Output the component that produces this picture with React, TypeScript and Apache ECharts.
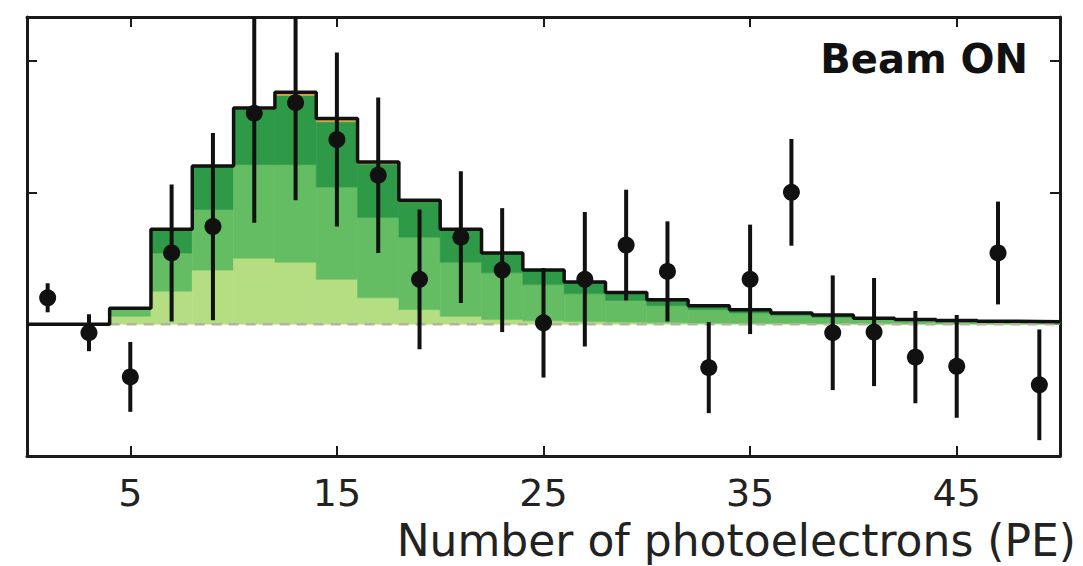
import React, { useEffect, useRef } from "react";
import * as echarts from "echarts";

// Histogram bin edges (PE)
const binEdges = [0, 2, 4, 6, 8, 10, 12, 14, 16, 18, 20, 22, 24, 26, 28, 30, 32, 34, 36, 38, 40, 42, 44, 46, 48, 50];
// Stacked prediction components per bin (bottom -> top)
const lightLayer = [0, 0, 0.6, 2.5, 4.1, 5.0, 4.7, 3.4, 2.0, 1.1, 0.6, 0.35, 0.25, 0.2, 0.15, 0.1, 0.08, 0.06, 0.05, 0.04, 0.03, 0.02, 0.02, 0.01, 0.01];
const mediumLayer = [0, 0, 0.6, 2.9, 4.6, 7.1, 7.4, 7.0, 6.1, 5.5, 4.1, 3.55, 2.75, 2.1, 1.65, 1.3, 1.02, 0.79, 0.6, 0.46, 0.32, 0.25, 0.2, 0.15, 0.12];
const darkLayer = [0, 0, 0, 1.8, 3.3, 4.2, 5.25, 4.95, 4.05, 2.8, 2.5, 1.5, 1.1, 0.9, 0.6, 0.45, 0.3, 0.25, 0.2, 0.2, 0.1, 0.08, 0.06, 0.06, 0.05];
const orangeLayer = [0, 0, 0, 0, 0, 0.1, 0.25, 0.25, 0.15, 0, 0, 0, 0, 0, 0, 0, 0, 0, 0, 0, 0, 0, 0, 0, 0];
const layerColors = ["#b5de82", "#64bd63", "#2e9a48", "#d9a23a"];

// Beam ON data points
const pointX = [1, 3, 5, 7, 9, 11, 13, 15, 17, 19, 21, 23, 25, 27, 29, 31, 33, 35, 37, 39, 41, 43, 45, 47, 49];
const pointY = [2.0, -0.65, -4.0, 5.4, 7.4, 16.0, 16.8, 14.0, 11.3, 3.4, 6.6, 4.1, 0.1, 3.4, 6.0, 4.0, -3.3, 3.4, 10.0, -0.65, -0.6, -2.5, -3.2, 5.4, -4.6];
const pointErr = [1.1, 1.4, 2.65, 5.2, 7.1, 8.3, 7.4, 6.6, 5.9, 5.3, 5.0, 4.7, 4.15, 5.1, 4.2, 3.8, 3.45, 4.15, 4.05, 4.35, 4.1, 3.5, 3.9, 3.9, 4.2];

const xTickValues = [5, 15, 25, 35, 45];
const yTickValues = [0, 10, 20];
const xMin = 0, xMax = 50, yMin = -10, yMax = 23.3;

export default function App() {
  const ref = useRef<HTMLDivElement>(null);
  useEffect(() => {
    document.body.style.margin = "0";
    if (!ref.current) return;
    const chart = echarts.init(ref.current, null, { renderer: "svg" });

    const layers = [lightLayer, mediumLayer, darkLayer, orangeLayer];
    const rectData: number[][] = [];
    const totals: number[] = [];
    for (let i = 0; i < binEdges.length - 1; i++) {
      let base = 0;
      layers.forEach((layer, k) => {
        const v = layer[i];
        if (v > 0) rectData.push([binEdges[i], binEdges[i + 1], base, base + v, k]);
        base += v;
      });
      totals.push(base);
    }
    const outline: number[][] = totals.map((t, i) => [binEdges[i], t]);
    outline.push([binEdges[binEdges.length - 1], totals[totals.length - 1]]);

    const errData = pointX.map((x, i) => [x, pointY[i] - pointErr[i], pointY[i] + pointErr[i]]);
    const scatterData = pointX.map((x, i) => [x, pointY[i]]);

    const axisLineStyle = { color: "#1a1a1a", width: 3 };
    const tickStyle = { color: "#1a1a1a", width: 2 };

    chart.setOption({
      animation: false,
      backgroundColor: "#ffffff",
      grid: { left: 27, right: 23, top: 17, bottom: 110 },
      xAxis: [
        {
          type: "value", min: xMin, max: xMax, position: "bottom",
          axisLine: { onZero: false, lineStyle: axisLineStyle },
          axisTick: { inside: true, length: 10, customValues: xTickValues, lineStyle: tickStyle },
          axisLabel: { customValues: xTickValues, fontSize: 38, lineHeight: 30, fontFamily: "DejaVu Sans", color: "#222", margin: 22 },
          splitLine: { show: false },
        },
        {
          type: "value", min: xMin, max: xMax, position: "top",
          axisLine: { onZero: false, lineStyle: axisLineStyle },
          axisTick: { inside: true, length: 10, customValues: xTickValues, lineStyle: tickStyle },
          axisLabel: { show: false },
          splitLine: { show: false },
        },
      ],
      yAxis: [
        {
          type: "value", min: yMin, max: yMax, position: "left",
          axisLine: { show: true, onZero: false, lineStyle: axisLineStyle },
          axisTick: { show: true, inside: true, length: 10, customValues: yTickValues, lineStyle: tickStyle },
          axisLabel: { show: false },
          splitLine: { show: false },
        },
        {
          type: "value", min: yMin, max: yMax, position: "right",
          axisLine: { show: true, onZero: false, lineStyle: axisLineStyle },
          axisTick: { show: true, inside: true, length: 10, customValues: yTickValues, lineStyle: tickStyle },
          axisLabel: { show: false },
          splitLine: { show: false },
        },
      ],
      series: [
        {
          type: "custom",
          name: "prediction",
          xAxisIndex: 0, yAxisIndex: 0,
          z: 1,
          encode: { x: [0, 1], y: [2, 3] },
          data: rectData,
          renderItem: (params: any, api: any) => {
            const p0 = api.coord([api.value(0), api.value(2)]);
            const p1 = api.coord([api.value(1), api.value(3)]);
            const c = layerColors[api.value(4)];
            return {
              type: "rect",
              shape: { x: p0[0], y: p1[1], width: p1[0] - p0[0], height: p0[1] - p1[1] },
              style: { fill: c, stroke: c, lineWidth: 0.6 },
            };
          },
        },
        {
          type: "line",
          name: "zero",
          xAxisIndex: 0, yAxisIndex: 0,
          z: 2,
          data: [[4, 0], [50, 0]],
          showSymbol: false,
          lineStyle: { color: "#b0b59c", width: 2.5, type: [10, 7] },
        },
        {
          type: "line",
          name: "total",
          xAxisIndex: 0, yAxisIndex: 0,
          z: 3,
          step: "end",
          data: outline,
          showSymbol: false,
          lineStyle: { color: "#111", width: 3.5 },
        },
        {
          type: "custom",
          name: "errors",
          xAxisIndex: 0, yAxisIndex: 0,
          z: 4,
          encode: { x: 0, y: [1, 2] },
          data: errData,
          renderItem: (params: any, api: any) => {
            const cs = params.coordSys;
            const a = api.coord([api.value(0), api.value(1)]);
            const b = api.coord([api.value(0), api.value(2)]);
            const clampY = (y: number) => Math.max(cs.y, Math.min(cs.y + cs.height, y));
            return {
              type: "line",
              shape: { x1: a[0], y1: clampY(a[1]), x2: b[0], y2: clampY(b[1]) },
              style: { stroke: "#111", lineWidth: 4 },
            };
          },
        },
        {
          type: "scatter",
          name: "Beam ON",
          xAxisIndex: 0, yAxisIndex: 0,
          z: 5,
          symbol: "circle",
          symbolSize: 17,
          itemStyle: { color: "#111", opacity: 1 },
          data: scatterData,
        },
      ],
      graphic: [
        {
          type: "text",
          x: 1028, y: 39,
          style: {
            text: "Beam ON",
            font: "bold 40px 'DejaVu Sans'",
            fill: "#111",
            textAlign: "right",
            textVerticalAlign: "top",
          },
        },
        {
          type: "text",
          x: 1076, y: 520,
          style: {
            text: "Number of photoelectrons (PE)",
            font: "44px 'DejaVu Sans'",
            lineHeight: 40,
            fill: "#222",
            textAlign: "right",
            textVerticalAlign: "top",
          },
        },
      ],
    });
    return () => chart.dispose();
  }, []);
  return <div ref={ref} style={{ width: 1083, height: 566 }} />;
}
